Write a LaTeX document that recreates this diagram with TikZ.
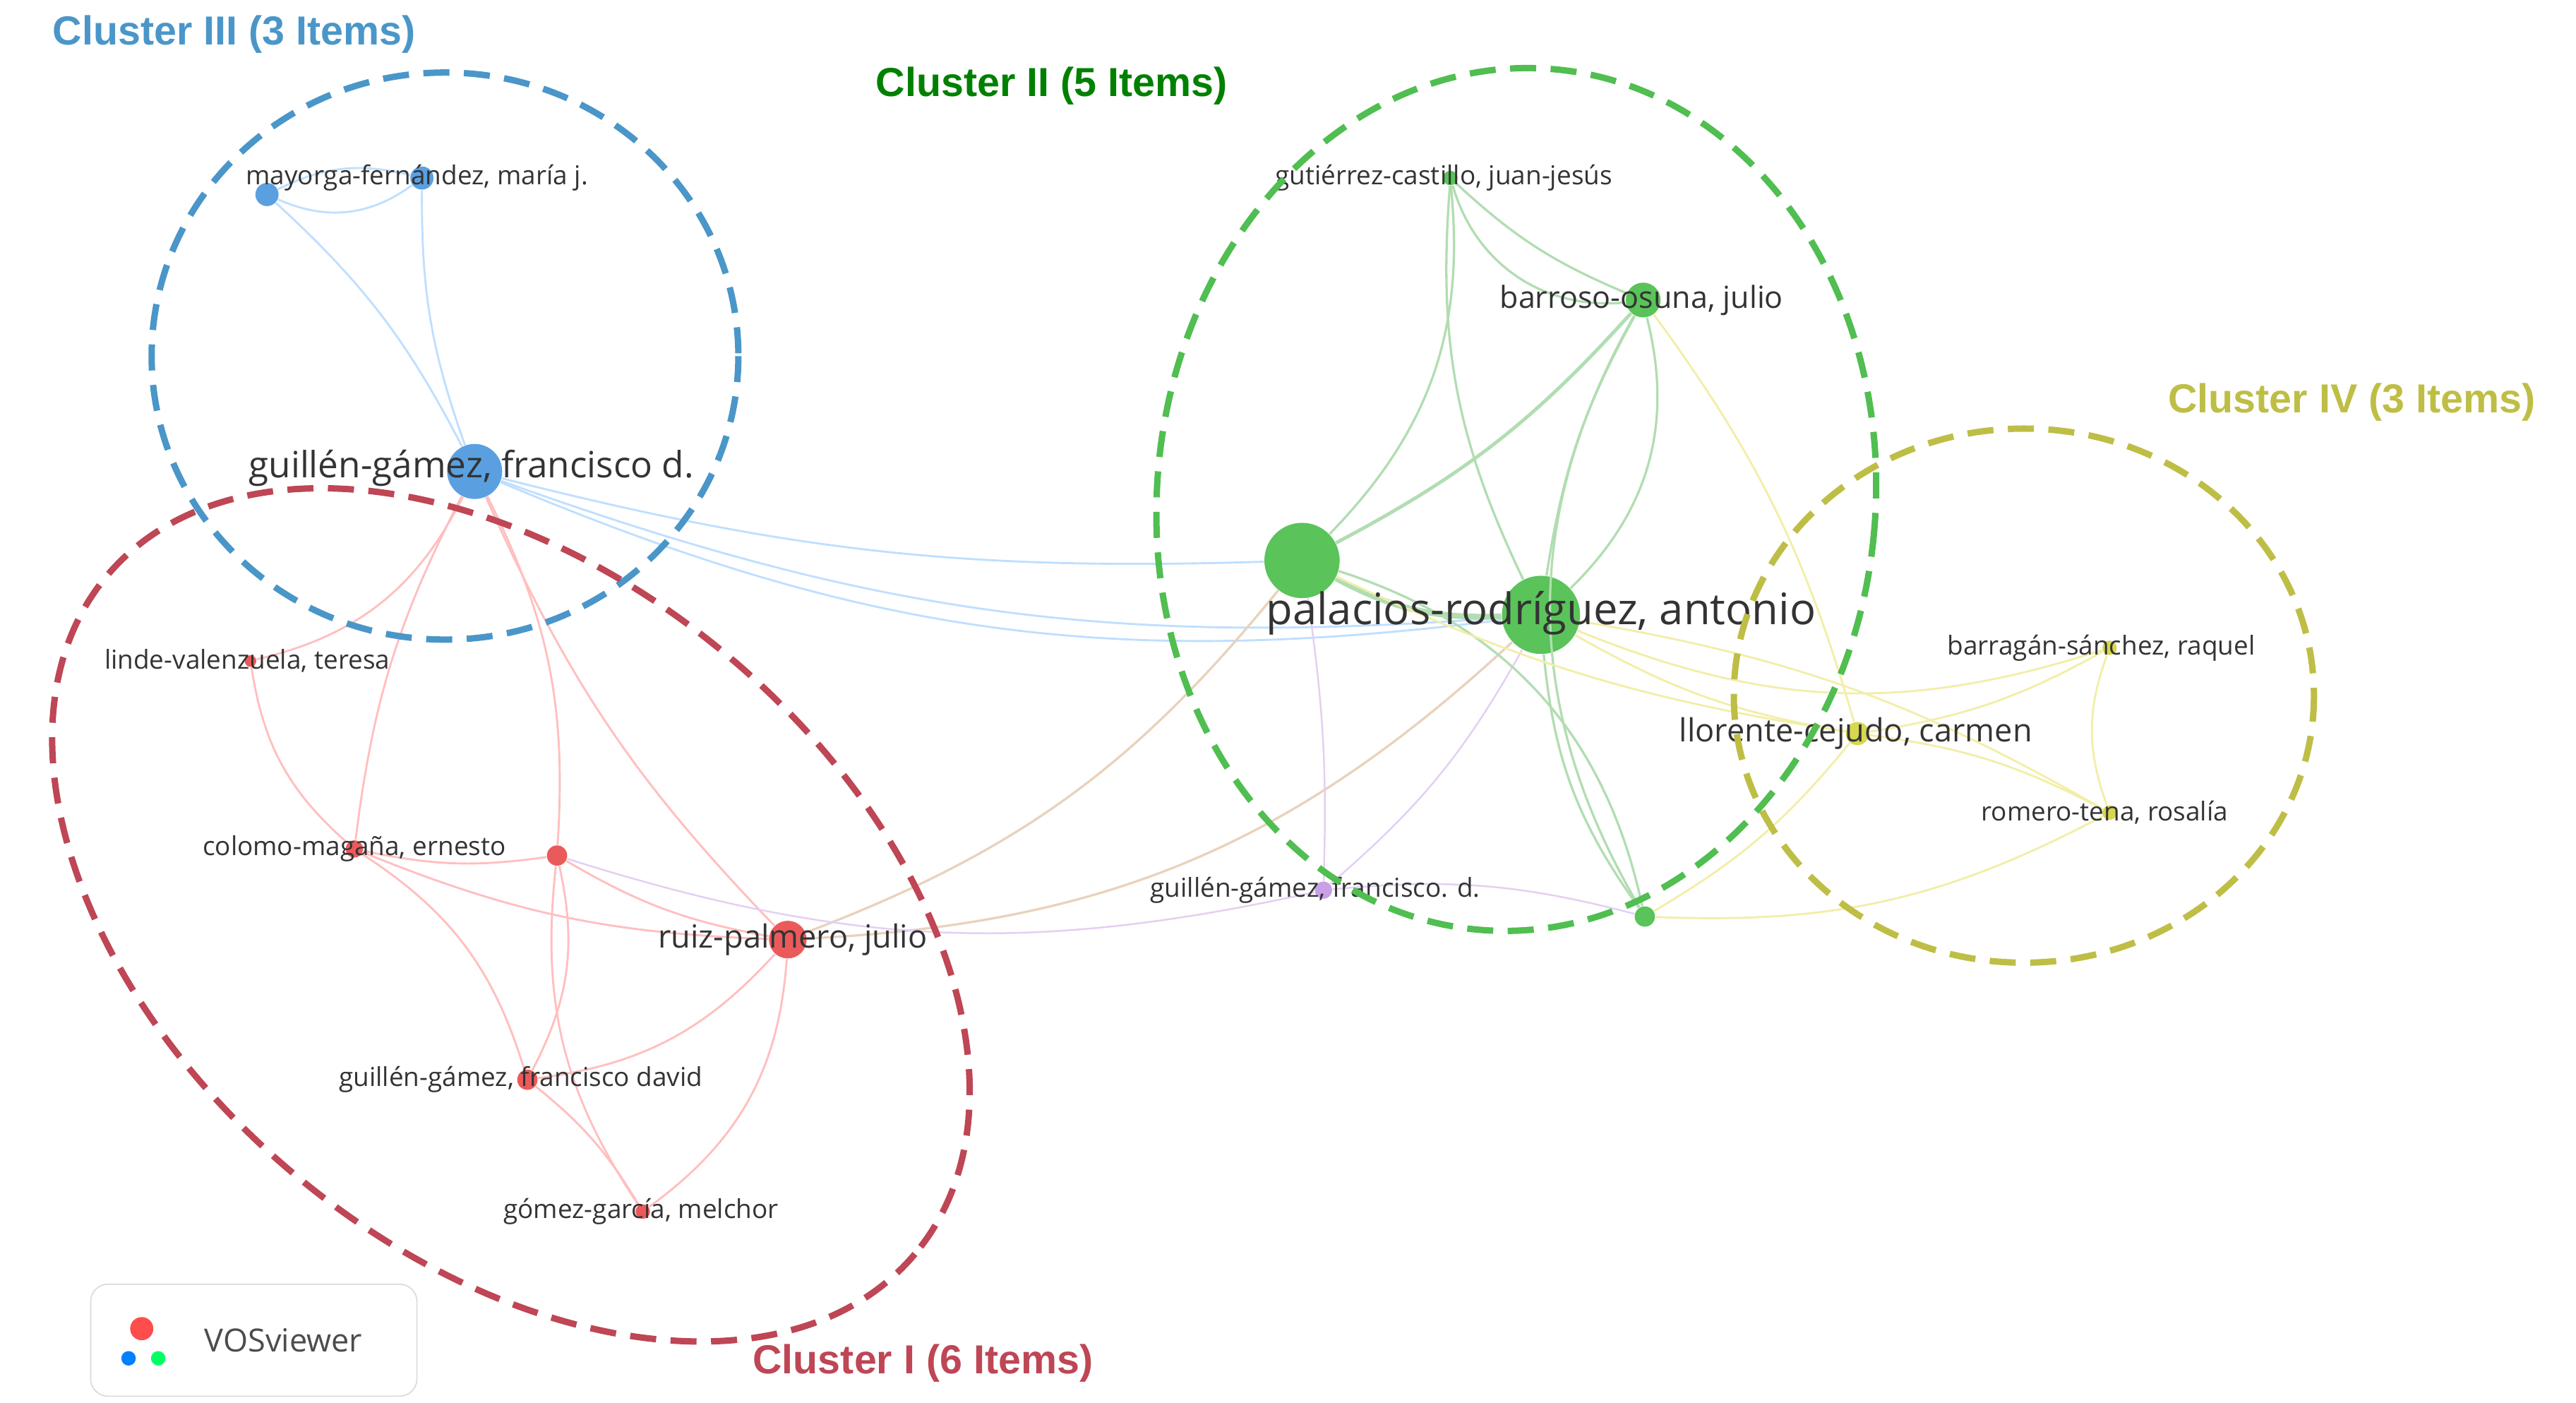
\documentclass[tikz,border=0pt]{standalone}
\usepackage{fontspec}
\setmainfont{Open Sans}
\newfontfamily\titlefont{Liberation Sans}
\begin{document}
\begin{tikzpicture}[x=0.02cm,y=-0.02cm,
 lab/.style={font=\fontsize{9}{10}\selectfont,text=black!80},
 bigl/.style={font=\fontsize{12.5}{13}\selectfont,text=black!80},
 ctitle/.style={font=\titlefont\bfseries\fontsize{14}{15}\selectfont},
 cl/.style={line width=2.2pt,dash pattern=on 9pt off 5pt},
 eb/.style={draw=blue!50!cyan!25,line width=0.7pt},
 er/.style={draw=red!25,line width=0.7pt},
 eg/.style={draw=green!55!black!30,line width=0.8pt},
 ey/.style={draw=yellow!60!olive!30,line width=0.7pt},
 dot/.style={circle,inner sep=0pt}]
\definecolor{cb}{RGB}{74,150,201}
\definecolor{cr}{RGB}{190,70,85}
\definecolor{cg}{RGB}{80,190,80}
\definecolor{cy}{RGB}{190,190,70}
\definecolor{nb}{RGB}{90,160,225}
\definecolor{nr}{RGB}{235,90,90}
\definecolor{ng}{RGB}{90,195,90}
\definecolor{ny}{RGB}{215,215,80}
\definecolor{np}{RGB}{200,160,230}
\useasboundingbox (0,0) rectangle (1563,851);
% nodes
\node[dot,fill=nb,minimum size=8pt] (m1) at (162,118) {};
\node[dot,fill=nb,minimum size=8pt] (m2) at (256,108) {};
\node[dot,fill=nb,minimum size=19pt] (gg) at (288,286) {};
\node[dot,fill=nr,minimum size=4pt] (li) at (152,401) {};
\node[dot,fill=nr,minimum size=6pt] (co) at (215,515) {};
\node[dot,fill=nr,minimum size=7pt] (r2) at (338,519) {};
\node[dot,fill=nr,minimum size=13pt] (ru) at (478,570) {};
\node[dot,fill=nr,minimum size=7pt] (gd) at (320,655) {};
\node[dot,fill=nr,minimum size=5pt] (go) at (390,735) {};
\node[dot,fill=ng,minimum size=26pt] (p1) at (790,340) {};
\node[dot,fill=ng,minimum size=27pt] (pa) at (935,373) {};
\node[dot,fill=ng,minimum size=5pt] (gu) at (880,108) {};
\node[dot,fill=ng,minimum size=12pt] (ba) at (997,182) {};
\node[dot,fill=ng,minimum size=7pt] (g3) at (998,556) {};
\node[dot,fill=np,minimum size=6pt] (pu) at (803,540) {};
\node[dot,fill=ny,minimum size=8pt] (ll) at (1127,445) {};
\node[dot,fill=ny,minimum size=5pt] (bs) at (1280,393) {};
\node[dot,fill=ny,minimum size=5pt] (rt) at (1280,493) {};
% edges
\draw[eb] (m1) to[bend left=20] (m2);
\draw[eb] (m1) to[bend left=10] (gg);
\draw[eb] (m2) to[bend right=10] (gg);
\draw[eb] (m1) to[bend right=30] (m2);
\draw[eb] (gg) to[bend right=8] (p1);
\draw[eb] (gg) to[bend right=12] (pa);
\draw[eb] (gg) to[bend right=15] (pa);
\draw[er] (gg) to[bend left=25] (li);
\draw[er] (gg) to[bend right=10] (co);
\draw[er] (gg) to[bend right=10] (ru);
\draw[er] (gg) to[bend left=15] (r2);
\draw[er] (li) to[bend right=20] (co);
\draw[er] (co) to[bend right=10] (r2);
\draw[er] (co) to[bend right=10] (ru);
\draw[er] (co) to[bend left=20] (gd);
\draw[er] (r2) to[bend right=10] (ru);
\draw[er] (r2) to[bend left=20] (gd);
\draw[er] (r2) to[bend right=20] (go);
\draw[er] (ru) to[bend left=20] (gd);
\draw[er] (ru) to[bend left=25] (go);
\draw[er] (gd) to[bend left=10] (go);
\draw[draw=brown!35,line width=0.8pt] (ru) to[bend right=15] (p1);
\draw[draw=brown!35,line width=0.8pt] (ru) to[bend right=20] (pa);
\draw[draw=np!50,line width=0.6pt] (r2) to[bend right=15] (pu);
\draw[draw=np!50,line width=0.6pt] (pu) to[bend right=5] (p1);
\draw[draw=np!50,line width=0.6pt] (pu) to[bend right=10] (pa);
\draw[draw=np!50,line width=0.6pt] (pu) to[bend left=10] (g3);
\draw[eg,line width=2pt] (p1) to[bend right=15] (pa);
\draw[eg,line width=1.2pt] (p1) to[bend right=10] (ba);
\draw[eg] (p1) to[bend right=25] (gu);
\draw[eg] (pa) to[bend left=15] (gu);
\draw[eg] (pa) to[bend left=10] (ba);
\draw[eg] (gu) to[bend right=10] (ba);
\draw[eg] (gu) to[bend right=40] (ba);
\draw[eg] (p1) to[bend left=30] (g3);
\draw[eg] (pa) to[bend right=15] (g3);
\draw[eg] (ba) to[bend right=30] (g3);
\draw[eg] (ba) to[bend left=30] (pa);
\draw[ey] (pa) to[bend right=10] (ll);
\draw[ey] (pa) to[bend right=20] (bs);
\draw[ey] (pa) to[bend left=10] (rt);
\draw[ey] (p1) to[bend right=8] (ll);
\draw[ey] (ll) to[bend right=10] (bs);
\draw[ey] (ll) to[bend left=10] (rt);
\draw[ey] (bs) to[bend right=20] (rt);
\draw[ey] (ba) to[bend left=10] (ll);
\draw[ey] (g3) to[bend right=10] (ll);
\draw[ey] (g3) to[bend right=15] (rt);
% labels
\node[lab] at (253,108) {mayorga-fernández, maría j.};
\node[bigl] at (286,284) {guillén-gámez, francisco d.};
\node[lab] at (150,401) {linde-valenzuela, teresa};
\node[lab] at (215,515) {colomo-magaña, ernesto};
\node[bigl,font=\fontsize{11}{12}\selectfont] at (481,570) {ruiz-palmero, julio};
\node[lab] at (316,655) {guillén-gámez, francisco david};
\node[lab] at (389,735) {gómez-garcía, melchor};
\node[lab] at (876,108) {gutiérrez-castillo, juan-jesús};
\node[bigl,font=\fontsize{10.5}{11}\selectfont] at (996,182) {barroso-osuna, julio};
\node[bigl,font=\fontsize{15}{16}\selectfont] at (935,372) {palacios-rodríguez, antonio};
\node[lab] at (798,540) {guillén-gámez, francisco. d.};
\node[bigl,font=\fontsize{11}{12}\selectfont] at (1126,445) {llorente-cejudo, carmen};
\node[lab] at (1275,393) {barragán-sánchez, raquel};
\node[lab] at (1277,493) {romero-tena, rosalía};
% clusters
\draw[cl,cb] (270,216) ellipse [x radius=178,y radius=172];
\draw[cl,cr,rotate around={-40:(310,555)}] (310,555) ellipse [x radius=320,y radius=205];
\draw[cl,cg,rotate around={-5:(920,303)}] (920,303) ellipse [x radius=218,y radius=262];
\draw[cl,cy] (1228,422) ellipse [x radius=176,y radius=162];
\node[ctitle,text=cb] at (142,21) {Cluster III (3 Items)};
\node[ctitle,text=green!50!black] at (638,52) {Cluster II (5 Items)};
\node[ctitle,text=cy] at (1427,244) {Cluster IV (3 Items)};
\node[ctitle,text=cr] at (560,827) {Cluster I (6 Items)};
% logo
\node[draw=black!15,fill=white,rounded corners=6pt,minimum width=3.96cm,minimum height=1.36cm] (vb) at (154,813) {};
\node[font=\fontsize{11}{12}\selectfont,text=black!70] (vt) at (172,813) {VOSviewer};
\node[dot,fill=red!70,minimum size=8pt] (lg) at (86,806) {};
\node[dot,fill=blue!50!cyan,minimum size=5pt] at (78,824) {};
\node[dot,fill=green!60!cyan,minimum size=5pt] at (96,824) {};
\end{tikzpicture}
\end{document}
